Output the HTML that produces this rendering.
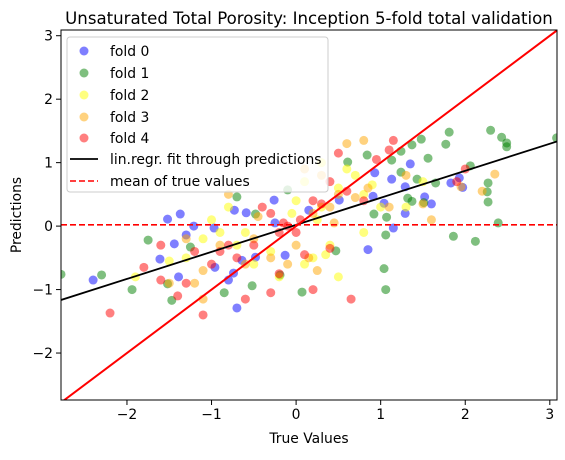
<!DOCTYPE html>
<html><head><meta charset="utf-8"><style>
body{margin:0;background:#fff;}
svg text{font-family:"DejaVu Sans","Liberation Sans",sans-serif;fill:#000;}
</style></head><body>
<svg id="chart" width="565" height="455" xmlns="http://www.w3.org/2000/svg">
<rect width="565" height="455" fill="#fff"/>
<text x="309" y="24" font-size="16.6" text-anchor="middle">Unsaturated Total Porosity: Inception 5-fold total validation</text>
<g id="marks"></g>
<g id="axes"></g>
<text x="309" y="443" font-size="13.9" text-anchor="middle">True Values</text>
<text transform="translate(21,215) rotate(-90)" font-size="13.9" text-anchor="middle">Predictions</text>
</svg>
<script>
const xTicks=[-2,-1,0,1,2,3];
const yTicks=[-2,-1,0,1,2,3];
const xTickLabels=["\u22122","\u22121","0","1","2","3"];
const yTickLabels=["\u22122","\u22121","0","1","2","3"];
const foldNames=["fold 0","fold 1","fold 2","fold 3","fold 4"];
const foldColors=["blue","green","yellow","orange","red"];
const fold0=[[-2.40,-0.85],[-1.61,-0.52],[-1.52,0.11],[-1.37,0.19],[-1.44,-0.28],[-1.30,-0.14],[-1.21,0],[-0.97,-0.03],[-0.73,0.25],[-0.59,0.21],[-0.26,0.41],[-0.25,0.05],[-0.70,-1.29],[-1.39,-0.8],[-0.80,-0.85],[-0.64,-0.54],[-0.48,-0.49],[-0.13,-0.46],[-0.96,-0.65],[-0.74,-0.74],[0.93,0.84],[1.13,0.74],[1.35,0.98],[1.29,0.62],[0.91,0.47],[1.52,0.46],[1.60,0.35],[1.29,0.2],[1.15,-0.03],[0.85,-0.37],[1.83,0.68],[1.93,0.76],[1.97,0.61],[1.04,0.36],[0.51,0.41],[0.15,0.25]];
const fold1=[[-2.78,-0.76],[-2.30,-0.77],[-1.94,-1.0],[-1.75,-0.22],[-1.52,-0.91],[-1.47,-1.17],[-1.25,-0.33],[-0.70,0.46],[-0.48,0.19],[-0.85,-1.05],[-0.52,-0.94],[-0.19,-0.77],[0.07,-1.04],[-0.10,0.57],[1.81,1.48],[1.77,1.29],[2.30,1.51],[2.43,1.40],[2.49,1.31],[2.49,1.25],[2.27,0.68],[2.26,0.54],[2.27,0.38],[2.39,0.05],[1.86,-0.16],[2.12,-0.24],[1.04,-0.67],[1.06,-1.0],[0.47,-0.39],[1.06,-0.14],[0.92,0.19],[1.07,0.14],[1.32,0.44],[1.37,0.39],[1.51,0.37],[1.43,0.74],[1.24,0.85],[1.56,1.07],[1.48,1.37],[1.37,1.28],[1.24,1.18],[0.84,1.12],[0.61,1.01],[1.65,0.68],[2.06,0.95],[3.08,1.39],[1.13,1.04]];
const fold2=[[-1.0,0.1],[-1.1,-0.2],[-1.3,-0.5],[-1.9,-0.8],[-0.8,0.3],[-0.6,-0.1],[-0.3,-0.4],[0.1,0.7],[0.3,0.3],[0.4,-0.3],[0.5,0.6],[0.7,0.8],[0.8,0.5],[1.0,0.3],[1.5,0.7],[0.2,-0.5],[0.1,-0.6],[0.5,-0.8],[0.8,-0.1],[-0.5,-0.6],[0.0,0.4],[0.3,1.0],[0.6,0.9],[-0.2,-0.8],[1.3,0.3],[0.9,0.65],[-0.05,0.2],[0.25,0.1],[-0.7,-0.3],[0.35,-0.45],[-1.5,-0.55],[-0.9,-0.1]];
const fold3=[[-1.1,-0.7],[-1.3,-0.2],[-0.8,0.5],[-0.5,-0.2],[-1.5,-0.9],[-1.2,-0.9],[0.6,1.3],[0.8,1.35],[0.1,0.9],[0.3,0.8],[0.2,0.2],[0.4,0.3],[0.5,0.5],[1.1,0.3],[1.3,0.8],[1.6,0.1],[2.2,0.55],[1.95,0.62],[2.35,0.82],[1.5,0.35],[0.45,0.05],[-0.3,-0.5],[0.0,-0.3],[0.25,-0.7],[-0.6,-0.6],[0.85,0.6],[-0.45,0.15],[-0.1,-0.6],[0.15,-0.5],[0.7,0.45],[-0.9,-0.3],[-1.1,-1.15]];
const fold4=[[-2.2,-1.37],[-1.6,-0.3],[-1.8,-0.65],[-1.2,-0.4],[-1.0,-0.6],[-0.9,-0.4],[-0.7,-0.5],[-0.5,-0.3],[-0.3,0.2],[-0.2,-0.1],[-0.1,0.0],[0.0,-0.1],[0.05,0.1],[-1.6,-0.85],[-1.4,-1.1],[-1.1,-1.4],[-0.3,-1.05],[-0.6,-1.15],[-0.8,-0.3],[0.2,0.4],[0.4,0.7],[0.5,1.15],[0.6,0.55],[0.95,1.05],[1.1,1.2],[1.15,1.35],[2.0,0.9],[1.9,0.7],[0.1,-0.45],[0.4,-0.35],[0.65,-1.15],[0.2,-1.0],[-0.15,0.05],[-0.4,0.3],[0.3,0.35],[-0.2,-0.75],[-1.3,-0.9],[0.8,0.4]];
const folds=[fold0,fold1,fold2,fold3,fold4];
const fitSlope=[0.426];
const fitIntercept=[0.02];
const meanTrue=[0.02];
const xDomain=[-2.78,3.085];
const yDomain=[-2.74,3.09];

const L=61,R=557,T=30,B=400;
const sx=v=>L+(v-xDomain[0])/(xDomain[1]-xDomain[0])*(R-L);
const sy=v=>B-(v-yDomain[0])/(yDomain[1]-yDomain[0])*(B-T);
const NS="http://www.w3.org/2000/svg";
function mk(tag,attrs,parent){const e=document.createElementNS(NS,tag);for(const k in attrs)e.setAttribute(k,attrs[k]);parent.appendChild(e);return e;}
const marks=document.getElementById('marks');
const axes=document.getElementById('axes');
const defs=mk('clipPath',{id:'clip'},marks);
mk('rect',{x:L,y:T,width:R-L,height:B-T},defs);
const g=mk('g',{'clip-path':'url(#clip)'},marks);
folds.forEach((f,i)=>{f.forEach((p,j)=>{
  const c=mk('circle',{cx:sx(p[0]),cy:sy(p[1]),r:4.5,fill:foldColors[i],'fill-opacity':0.5},g);
  
  
});});
const fit=mk('line',{x1:sx(xDomain[0]),y1:sy(fitSlope[0]*xDomain[0]+fitIntercept[0]),x2:sx(xDomain[1]),y2:sy(fitSlope[0]*xDomain[1]+fitIntercept[0]),stroke:'#000','stroke-width':1.8},g);


const idl=mk('line',{x1:sx(-4),y1:sy(-4),x2:sx(4),y2:sy(4),stroke:'red','stroke-width':2},g);


const mean=mk('line',{x1:L,y1:sy(meanTrue[0]),x2:R,y2:sy(meanTrue[0]),stroke:'red','stroke-width':1.6,'stroke-dasharray':'6,3'},g);


const fr=mk('rect',{x:L,y:T,width:R-L,height:B-T,fill:'none',stroke:'#000','stroke-width':1},axes);


xTicks.forEach((t,i)=>{
  const x=sx(t);
  mk('line',{x1:x,y1:B,x2:x,y2:B+5,stroke:'#000'},axes);
  const tx=mk('text',{x:x,y:B+19,'font-size':13.9,'text-anchor':'middle'},axes);
  tx.textContent=xTickLabels[i];
  
  
});
yTicks.forEach((t,i)=>{
  const y=sy(t);
  mk('line',{x1:L-5,y1:y,x2:L,y2:y,stroke:'#000'},axes);
  const tx=mk('text',{x:L-8,y:y+5,'font-size':13.9,'text-anchor':'end'},axes);
  tx.textContent=yTickLabels[i];
  
  
});
const lg=mk('g',{},axes);


mk('rect',{x:67,y:37,width:261,height:155,rx:3,fill:'#fff','fill-opacity':0.8,stroke:'#ccc'},lg);
const rowsY=[51,73,95,117,138,159,181];
foldNames.forEach((n,i)=>{
  const c=mk('circle',{cx:84,cy:rowsY[i],r:4.5,fill:foldColors[i],'fill-opacity':0.5},lg);
  
  
  const t=mk('text',{x:110,y:rowsY[i]+5,'font-size':13.9},lg);
  t.textContent=n;
  
  
});
mk('line',{x1:70,y1:rowsY[5],x2:98,y2:rowsY[5],stroke:'#000','stroke-width':1.8},lg);
let t5=mk('text',{x:110,y:rowsY[5]+5,'font-size':13.9},lg);
t5.textContent='lin.regr. fit through predictions';


mk('line',{x1:70,y1:rowsY[6],x2:98,y2:rowsY[6],stroke:'red','stroke-width':1.6,'stroke-dasharray':'6,3'},lg);
let t6=mk('text',{x:110,y:rowsY[6]+5,'font-size':13.9},lg);
t6.textContent='mean of true values';


</script>
</body></html>
